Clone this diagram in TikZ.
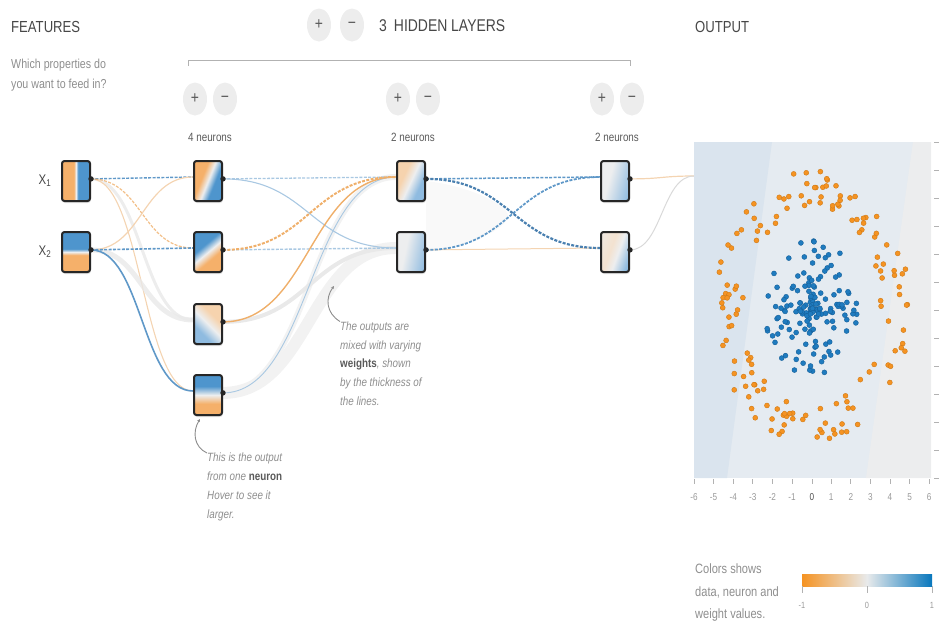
\documentclass[tikz,border=0pt]{standalone}
\usepackage{fontspec}
\setmainfont{Liberation Sans}[FakeStretch=0.82]
\usetikzlibrary{calc,shapes.geometric,shadows,arrows.meta}

% palette
\definecolor{txtDark}{HTML}{474747}
\definecolor{txtMid}{HTML}{5A5A5A}
\definecolor{txtLight}{HTML}{8E8E8E}
\definecolor{btnGray}{HTML}{EDEDED}
\definecolor{nOr}{HTML}{F5B06A}
\definecolor{nBl}{HTML}{4E95CD}
\definecolor{nWh}{HTML}{EDEEEF}
\definecolor{pOr}{HTML}{F6D3AE}
\definecolor{pBl}{HTML}{8FBBE0}
\definecolor{fOr}{HTML}{F3E2D0}
\definecolor{wBl}{HTML}{5F98C8}
\definecolor{wBlD}{HTML}{4A80B0}
\definecolor{wBlL}{HTML}{A9C8E2}
\definecolor{wOr}{HTML}{EFAF6A}
\definecolor{wOrL}{HTML}{F4D4B2}
\definecolor{band}{HTML}{E9E9E9}
\definecolor{dotO}{HTML}{F59322}
\definecolor{dotOe}{HTML}{CF7A16}
\definecolor{dotB}{HTML}{1F7BBF}
\definecolor{dotBe}{HTML}{15609A}
\definecolor{bgMid}{HTML}{E5EBF1}
\definecolor{bgLeft}{HTML}{DAE4EE}
\definecolor{bgRight}{HTML}{ECEDEE}
\definecolor{barOr}{HTML}{F59322}
\definecolor{barMid}{HTML}{E8EAEB}
\definecolor{barBl}{HTML}{0877BD}

% neuron heat-map shadings
\pgfdeclarehorizontalshading{hardOB}{100bp}{color(0bp)=(nOr); color(46bp)=(nOr); color(50bp)=(nWh); color(54bp)=(nBl); color(100bp)=(nBl)}
\pgfdeclarehorizontalshading{softOB}{100bp}{color(0bp)=(nOr); color(39bp)=(nOr); color(50bp)=(nWh); color(61bp)=(nBl); color(100bp)=(nBl)}
\pgfdeclarehorizontalshading{paleOB}{100bp}{color(0bp)=(pOr); color(36bp)=(pOr); color(50bp)=(nWh); color(66bp)=(pBl); color(100bp)=(pBl)}
\pgfdeclarehorizontalshading{paleWB}{100bp}{color(0bp)=(nWh); color(40bp)=(nWh); color(78bp)=(pBl); color(100bp)=(pBl)}
\pgfdeclarehorizontalshading{faintOB}{100bp}{color(0bp)=(nWh); color(42bp)=(fOr); color(55bp)=(nWh); color(75bp)=(pBl); color(100bp)=(pBl)}
% colour legend bar
\pgfdeclarehorizontalshading{legendbar}{100bp}{color(0bp)=(barOr); color(25bp)=(barOr); color(50bp)=(barMid); color(75bp)=(barBl); color(100bp)=(barBl)}

\pgfdeclarelayer{bg}
\pgfsetlayers{bg,main}

% sigmoid-like link between two anchors
\newcommand\wire[3]{\draw[#3] let \p1=(#1), \p2=(#2), \p3=($(\p1)!0.5!(\p2)$) in (\p1) .. controls (\x3,\y1) and (\x3,\y2) .. (\p2);}

\begin{document}
\begin{tikzpicture}[x=1pt,y=-1pt,
  title/.style={font=\fontsize{16}{19}\selectfont, text=txtDark, inner sep=0, anchor=base west},
  subtxt/.style={font=\fontsize{13}{20}\selectfont, text=txtLight, inner sep=0, anchor=north west, align=left},
  note/.style={font=\fontsize{12}{18.7}\selectfont\itshape, text=txtLight, inner sep=0, anchor=north west, align=left},
  lbl/.style={font=\fontsize{12}{14}\selectfont, text=txtMid, inner sep=0},
  btn/.style={ellipse, fill=btnGray, minimum width=24, minimum height=33, inner sep=0, text=txtMid, font=\fontsize{17}{17}\selectfont},
  nbox/.style={draw=black!85, line width=2, rounded corners=2.5, minimum width=28, minimum height=40, inner sep=0, shade,
    drop shadow={shadow xshift=0.6pt, shadow yshift=-2pt, opacity=0.12, fill=black}},
  dsh/.style={dash pattern=on 3pt off 1.4pt},
  brk/.style={draw=black!30, line width=1},
  tick/.style={draw=black!30, line width=0.7},
  axlbl/.style={font=\fontsize{10}{12}\selectfont, text=black!40, inner sep=0},
  pointer/.style={draw=black!45, line width=0.9},
]
\useasboundingbox (0,0) rectangle (940,625);

% ---------- headings ----------
\node[title] (feat) at (11,32) {FEATURES};
\node[subtxt] (featq) at (11,58.5) {Which properties do\\you want to feed in?};
\node[btn] (addlayer) at (319,25) {+};
\node[btn] (remlayer) at (352,25) {−};
\node[title, font=\fontsize{17}{20}\selectfont] (hidden) at (379,31) {3\hspace{7pt}HIDDEN LAYERS};
\node[title] (outtitle) at (695,32) {OUTPUT};
\draw[brk] (188,66) -- (188,60) -- (630,60) -- (630,66);

\node[btn] (addA) at (195,99) {+};
\node[btn] (remA) at (225,99) {−};
\node[btn] (addB) at (398,99) {+};
\node[btn] (remB) at (428,99) {−};
\node[btn] (addC) at (602,99) {+};
\node[btn] (remC) at (632,99) {−};
\node[lbl] (cntA) at (210,137) {4 neurons};
\node[lbl] (cntB) at (413,137) {2 neurons};
\node[lbl] (cntC) at (617,137) {2 neurons};

% ---------- neurons ----------
\node[nbox, shading=hardOB, shading angle=0] (x1) at (76,181) {};
\node[nbox, shading=hardOB, shading angle=90] (x2) at (76,252) {};
\node[font=\fontsize{14}{16}\selectfont, text=txtDark, inner sep=0] (x1lab) at (45,181) {X\textsubscript{1}};
\node[font=\fontsize{14}{16}\selectfont, text=txtDark, inner sep=0] (x2lab) at (45,252) {X\textsubscript{2}};

\node[nbox, shading=softOB, shading angle=-22] (l1a) at (208,181) {};
\node[nbox, shading=softOB, shading angle=130] (l1b) at (208,252) {};
\node[nbox, shading=paleOB, shading angle=225] (l1c) at (208,324) {};
\node[nbox, shading=softOB, shading angle=90] (l1d) at (208,395) {};

\node[nbox, shading=paleOB, shading angle=-25] (l2a) at (411,181) {};
\node[nbox, shading=paleWB, shading angle=-12] (l2b) at (411,252) {};

\node[nbox, shading=paleWB, shading angle=-15] (l3a) at (615,181) {};
\node[nbox, shading=faintOB, shading angle=-20] (l3b) at (615,252) {};

\foreach \n in {x1,x2,l1a,l1b,l1c,l1d,l2a,l2b,l3a,l3b}
  \fill[black!85] (\n.8) circle (2.7);

% ---------- output plot ----------
\coordinate (outin) at (694,176);
\fill[bgMid] (694,142) rectangle (931,478);
\fill[bgLeft] (694,142) -- (772,142) -- (727,478) -- (694,478) -- cycle;
\fill[bgRight] (913,142) -- (931,142) -- (931,478) -- (866,478) -- cycle;

\pgfmathsetseed{11}
\foreach \i in {1,...,150}{
  \pgfmathsetmacro\rr{3.5+1.5*rnd}
  \pgfmathsetmacro\aa{360*rnd}
  \filldraw[fill=dotO, draw=dotOe, line width=0.4] ({812+19.6*\rr*cos(\aa)}, {310-28*\rr*sin(\aa)}) circle (2.5);
}
\foreach \i in {1,...,160}{
  \pgfmathsetmacro\rr{2.5*rnd}
  \pgfmathsetmacro\aa{360*rnd}
  \filldraw[fill=dotB, draw=dotBe, line width=0.4] ({812+19.6*\rr*cos(\aa)}, {310-28*\rr*sin(\aa)}) circle (2.5);
}

\foreach \v [count=\k from 0] in {-6,-5,-4,-3,-2,-1}{
  \draw[tick] ({694+19.6*\k},479) -- ++(0,5);
  \node[axlbl] (xt\k) at ({694+19.6*\k},497) {\v};
}
\draw[tick] (812,479) -- ++(0,5);
\node[axlbl, text=black!70] (xt6) at (812,497) {0};
\foreach \v [count=\k from 7] in {1,2,3,4,5,6}{
  \draw[tick] ({694+19.6*\k},479) -- ++(0,5);
  \node[axlbl] (xt\k) at ({694+19.6*\k},497) {\v};
}
\foreach \k in {0,...,12}
  \draw[tick] (934,{142+28*\k}) -- ++(5,0);

% ---------- colour legend ----------
\node[subtxt, font=\fontsize{13.5}{22.5}\selectfont] (legend) at (695,564) {Colors shows\\data, neuron and\\weight values.};
\shade[shading=legendbar] (802,574) rectangle (932,586);
\foreach \x/\t [count=\k] in {802/-1,867/0,932/1}{
  \draw[tick] (\x,586) -- ++(0,7);
  \node[axlbl, font=\fontsize{9}{10}\selectfont] (bar\k) at (\x,605) {\t};
}

% ---------- annotations ----------
\node[note] (noteW) at (340,321.5) {The outputs are\\mixed with varying\\{\upshape\bfseries\color{txtMid}weights}, shown\\by the thickness of\\the lines.};
\draw[pointer, {Stealth[length=3pt,width=3pt]}-] (334,286) .. controls (325,298) and (326,313) .. (noteW.north west);
\node[note, font=\fontsize{12}{19}\selectfont\itshape] (noteN) at (207,453) {This is the output\\from one {\upshape\bfseries\color{txtMid}neuron}\\Hover to see it\\larger.};
\draw[pointer, {Stealth[length=3pt,width=3pt]}-] ([shift={(7,3)}]l1d.south west) .. controls (192,432) and (194,447) .. (noteN.north west);

% ---------- links ----------
\begin{pgfonlayer}{bg}
  % hidden layer 2 -> 3 faint mixing area
  \fill[black!2.5] (l2a.east) .. controls (470,186) and (508,205) .. (508,216) .. controls (508,228) and (470,247) .. (l2b.east) -- cycle;
  % inputs -> hidden layer 1
  \wire{x1.8}{l1c.165}{draw=band, line width=3, opacity=0.8}
  \wire{x1.8}{l1d.165}{draw=wOrL, line width=1.1}
  \wire{x2.8}{l1c.165}{draw=band, line width=5, opacity=0.8}
  \wire{x1.8}{l1a.165}{draw=wBl, line width=1.4, dsh}
  \wire{x1.8}{l1b.165}{draw=wOr, line width=1.2, dsh, opacity=0.8}
  \wire{x2.8}{l1a.165}{draw=wOrL, line width=1.2}
  \wire{x2.8}{l1b.165}{draw=wBl, line width=1.6, dsh}
  \wire{x2.8}{l1d.165}{draw=wBl, line width=1.6}
  % hidden layer 1 -> 2
  \wire{l1d.8}{l2b.165}{draw=black!5, line width=12}
  \wire{l1d.8}{l2a.165}{draw=black!5, line width=6}
  \wire{l1c.8}{l2b.165}{draw=band, line width=4}
  \wire{l1d.8}{l2a.165}{draw=wBlL, line width=0.9}
  \wire{l1a.8}{l2a.165}{draw=wBlL, line width=1.3, dsh}
  \wire{l1a.8}{l2b.165}{draw=wBlL, line width=1.1}
  \wire{l1b.8}{l2b.165}{draw=wBlL, line width=1.4, dsh}
  \wire{l1c.8}{l2a.165}{draw=wOr, line width=1.4}
  \wire{l1b.8}{l2a.165}{draw=wOr, line width=2, dsh}
  % hidden layer 2 -> 3
  \wire{l2b.8}{l3b.165}{draw=wOrL, line width=1}
  \wire{l2a.8}{l3a.165}{draw=wBl, line width=1.5, dsh}
  \wire{l2b.8}{l3a.165}{draw=wBl, line width=1.8, dsh}
  \wire{l2a.8}{l3b.165}{draw=wBlD, line width=2.2, dsh}
  % hidden layer 3 -> output
  \wire{l3a.8}{outin}{draw=wOrL, line width=1.2}
  \wire{l3b.8}{outin}{draw=black!15, line width=1}
\end{pgfonlayer}
\end{tikzpicture}
\end{document}
